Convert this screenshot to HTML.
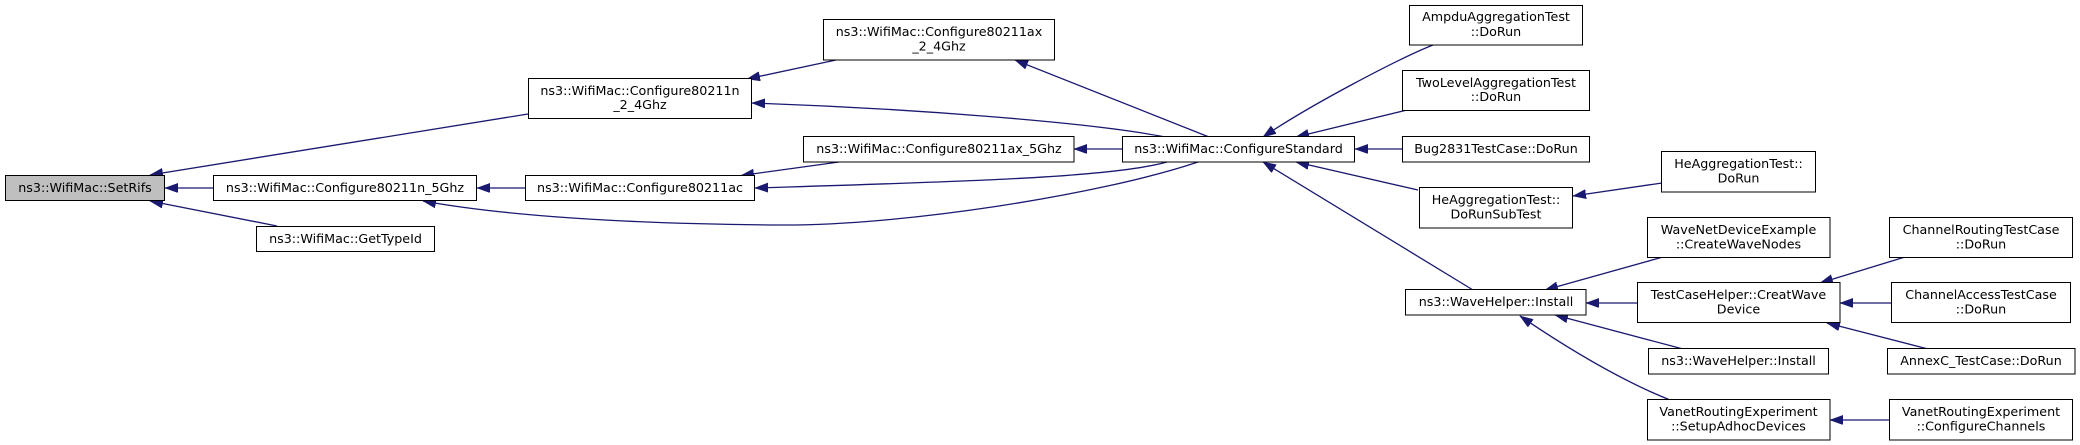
<!DOCTYPE html>
<html>
<head>
<meta charset="utf-8">
<style>
  html,body{margin:0;padding:0;background:#ffffff;}
  svg{display:block;}
  text{font-family:"DejaVu Sans","Liberation Sans",sans-serif;font-size:12.7px;fill:#000;text-anchor:middle;}
  .n{fill:#fff;stroke:#000;stroke-width:1;}
  .r{fill:#bfbfbf;stroke:#000;stroke-width:1;}
  .e{fill:none;stroke:#191970;stroke-width:1.3;}
</style>
</head>
<body>
<svg width="2080" height="445" viewBox="0 0 2080 445" xmlns="http://www.w3.org/2000/svg">
  <defs>
    <marker id="a" markerUnits="userSpaceOnUse" markerWidth="14" markerHeight="10" refX="13" refY="4.7" orient="auto">
      <polygon points="0,0 13,4.7 0,9.4" fill="#191970" stroke="#191970" stroke-width="0.5"/>
    </marker>
  </defs>

  <!-- edges -->
  <path class="e" marker-end="url(#a)" d="M528,114 L150,175"/>
  <path class="e" marker-end="url(#a)" d="M213,188 L165,188"/>
  <path class="e" marker-end="url(#a)" d="M277,226 L150,201"/>
  <path class="e" marker-end="url(#a)" d="M525,188 L477,188"/>
  <path class="e" marker-end="url(#a)" d="M1198,162 C1100,195 900,226 780,225 C620,224 500,215 423,201"/>
  <path class="e" marker-end="url(#a)" d="M836,60 L747,79"/>
  <path class="e" marker-end="url(#a)" d="M1165,137 C1090,122 900,108 752,103"/>
  <path class="e" marker-end="url(#a)" d="M839,162 L741,175.5"/>
  <path class="e" marker-end="url(#a)" d="M1122,149 L1074,149"/>
  <path class="e" marker-end="url(#a)" d="M1167,162 C1110,178 950,182 755,188"/>
  <path class="e" marker-end="url(#a)" d="M1209,137 L1015,60"/>
  <path class="e" marker-end="url(#a)" d="M1433,45 C1400,58 1310,105 1263,137"/>
  <path class="e" marker-end="url(#a)" d="M1407,110 L1296,137"/>
  <path class="e" marker-end="url(#a)" d="M1402,149 L1355,149"/>
  <path class="e" marker-end="url(#a)" d="M1418,190 L1296,162"/>
  <path class="e" marker-end="url(#a)" d="M1473,290 L1263,162"/>
  <path class="e" marker-end="url(#a)" d="M1662,183 L1573,196"/>
  <path class="e" marker-end="url(#a)" d="M1663,257 L1545,290"/>
  <path class="e" marker-end="url(#a)" d="M1637,303 L1586,303"/>
  <path class="e" marker-end="url(#a)" d="M1683,349 L1555,315"/>
  <path class="e" marker-end="url(#a)" d="M1670,400 C1620,380 1570,350 1520,316"/>
  <path class="e" marker-end="url(#a)" d="M1905,257 L1820,283"/>
  <path class="e" marker-end="url(#a)" d="M1892,303 L1840,303"/>
  <path class="e" marker-end="url(#a)" d="M1928,349 L1827,323"/>
  <path class="e" marker-end="url(#a)" d="M1890,420 L1830,420"/>

  <!-- nodes -->
  <rect class="r" x="5.5" y="175.5" width="159" height="25"/>
  <text x="85" y="192">ns3::WifiMac::SetRifs</text>

  <rect class="n" x="213.5" y="175.5" width="263" height="25"/>
  <text x="345" y="192">ns3::WifiMac::Configure80211n_5Ghz</text>

  <rect class="n" x="256.5" y="226.5" width="178" height="25"/>
  <text x="345.5" y="243">ns3::WifiMac::GetTypeId</text>

  <rect class="n" x="528.5" y="78.5" width="223" height="40"/>
  <text x="640" y="95">ns3::WifiMac::Configure80211n</text>
  <text x="640" y="109">_2_4Ghz</text>

  <rect class="n" x="525.5" y="175.5" width="229" height="25"/>
  <text x="640" y="192">ns3::WifiMac::Configure80211ac</text>

  <rect class="n" x="823.5" y="19.5" width="231" height="40.5"/>
  <text x="939" y="36">ns3::WifiMac::Configure80211ax</text>
  <text x="939" y="50.5">_2_4Ghz</text>

  <rect class="n" x="803.5" y="136.5" width="270.5" height="25.5"/>
  <text x="939" y="153">ns3::WifiMac::Configure80211ax_5Ghz</text>

  <rect class="n" x="1122.5" y="136.5" width="232" height="25.5"/>
  <text x="1238.5" y="153">ns3::WifiMac::ConfigureStandard</text>

  <rect class="n" x="1409.5" y="5.5" width="173" height="39.5"/>
  <text x="1496" y="21">AmpduAggregationTest</text>
  <text x="1496" y="36">::DoRun</text>

  <rect class="n" x="1402.5" y="70.5" width="187" height="40"/>
  <text x="1496" y="87">TwoLevelAggregationTest</text>
  <text x="1496" y="101">::DoRun</text>

  <rect class="n" x="1402.5" y="136.5" width="187" height="25.5"/>
  <text x="1496" y="153">Bug2831TestCase::DoRun</text>

  <rect class="n" x="1419.5" y="187.5" width="153" height="40.5"/>
  <text x="1496" y="204">HeAggregationTest::</text>
  <text x="1496" y="218.5">DoRunSubTest</text>

  <rect class="n" x="1405.5" y="289.5" width="180.5" height="25.5"/>
  <text x="1496" y="306">ns3::WaveHelper::Install</text>

  <rect class="n" x="1661.5" y="151.5" width="154" height="40.5"/>
  <text x="1738.5" y="168">HeAggregationTest::</text>
  <text x="1738.5" y="182.5">DoRun</text>

  <rect class="n" x="1647.5" y="217.5" width="182.5" height="40"/>
  <text x="1738.5" y="234">WaveNetDeviceExample</text>
  <text x="1738.5" y="248.5">::CreateWaveNodes</text>

  <rect class="n" x="1637.5" y="282.5" width="202.5" height="40"/>
  <text x="1738.5" y="299">TestCaseHelper::CreatWave</text>
  <text x="1738.5" y="313.5">Device</text>

  <rect class="n" x="1648.5" y="348.5" width="180" height="25.5"/>
  <text x="1738.5" y="365">ns3::WaveHelper::Install</text>

  <rect class="n" x="1647.5" y="399.5" width="182.5" height="40.5"/>
  <text x="1738.5" y="416">VanetRoutingExperiment</text>
  <text x="1738.5" y="430.5">::SetupAdhocDevices</text>

  <rect class="n" x="1889.5" y="217.5" width="183" height="40"/>
  <text x="1981" y="234">ChannelRoutingTestCase</text>
  <text x="1981" y="248.5">::DoRun</text>

  <rect class="n" x="1891.5" y="282.5" width="179" height="40"/>
  <text x="1981" y="299">ChannelAccessTestCase</text>
  <text x="1981" y="313.5">::DoRun</text>

  <rect class="n" x="1887.5" y="348.5" width="187.5" height="25.5"/>
  <text x="1981" y="365">AnnexC_TestCase::DoRun</text>

  <rect class="n" x="1889.5" y="399.5" width="183" height="40.5"/>
  <text x="1981" y="416">VanetRoutingExperiment</text>
  <text x="1981" y="430.5">::ConfigureChannels</text>
</svg>
</body>
</html>
